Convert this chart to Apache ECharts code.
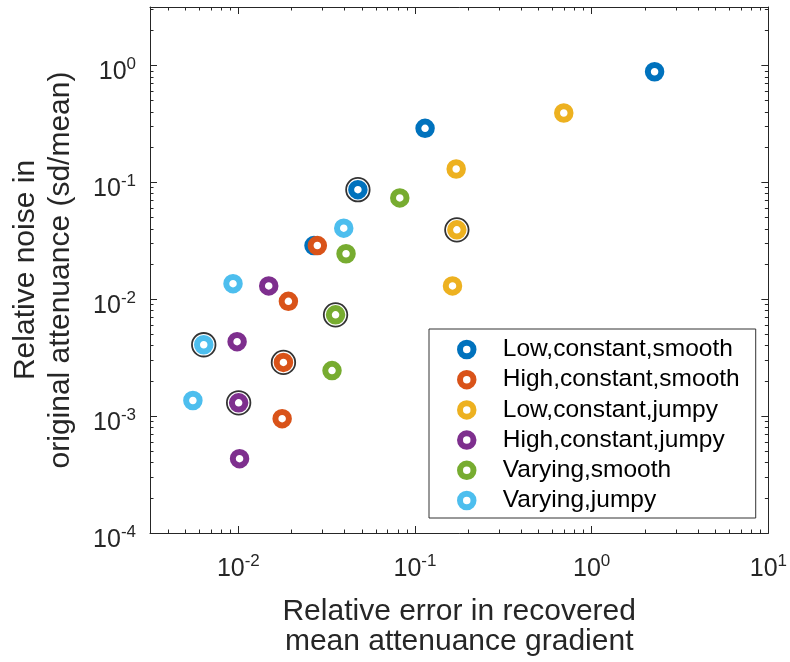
<!DOCTYPE html>
<html>
<head>
<meta charset="utf-8">
<title>Relative noise vs relative error</title>
<script src="https://cdn.jsdelivr.net/npm/echarts@6/dist/echarts.min.js"></script>
<style>
html, body { margin: 0; padding: 0; background: #fff; }
#chart { width: 790px; height: 662px; }
</style>
</head>
<body>
<div id="chart"></div>
<script>
// groups, in legend order
const groupNames = ['Low,constant,smooth', 'High,constant,smooth', 'Low,constant,jumpy',
                    'High,constant,jumpy', 'Varying,smooth', 'Varying,jumpy'];
const groupColors = ['#0072BD', '#D95319', '#EDB120', '#7E2F8E', '#77AC30', '#4DBEEE'];

// x: relative error in recovered mean attenuance gradient
const errLowConstSmooth   = [2.27, 0.114, 0.0475, 0.0268];
const errHighConstSmooth  = [0.0280, 0.0192, 0.0180, 0.0177];
const errLowConstJumpy    = [0.695, 0.171, 0.1725, 0.163];
const errHighConstJumpy   = [0.01486, 0.00984, 0.01004, 0.01016];
const errVaryingSmooth    = [0.082, 0.0407, 0.0355, 0.0339];
const errVaryingJumpy     = [0.0395, 0.00933, 0.00637, 0.00553];

// y: relative noise in original attenuance (sd/mean)
const noiseLowConstSmooth  = [0.883, 0.290, 0.0865, 0.0288];
const noiseHighConstSmooth = [0.0288, 0.0096, 0.00288, 0.00095];
const noiseLowConstJumpy   = [0.392, 0.130, 0.0392, 0.0130];
const noiseHighConstJumpy  = [0.0130, 0.00433, 0.00130, 0.000432];
const noiseVaryingSmooth   = [0.0735, 0.0245, 0.00735, 0.00245];
const noiseVaryingJumpy    = [0.0405, 0.01359, 0.00408, 0.00136];

// the run that is circled in black in every group
const circledRun = 2;

// axes are log10: exponents of the labelled decades and the ranges
const xTickExps = [-2, -1, 0, 1];
const yTickExps = [-4, -3, -2, -1, 0];
const xRange = [-2.5, 1];
const yRange = [-4, 0.5];

const errs = [errLowConstSmooth, errHighConstSmooth, errLowConstJumpy,
              errHighConstJumpy, errVaryingSmooth, errVaryingJumpy];
const noises = [noiseLowConstSmooth, noiseHighConstSmooth, noiseLowConstJumpy,
                noiseHighConstJumpy, noiseVaryingSmooth, noiseVaryingJumpy];

const font = "'Liberation Sans', Arial, Helvetica, sans-serif";
const axisColor = '#262626';

// 2..9 ticks inside each decade
function minorTicks(range) {
    const out = [];
    for (let e = Math.floor(range[0]); e < range[1]; e++) {
        for (let k = 2; k <= 9; k++) {
            const v = e + Math.log10(k);
            if (v > range[0] && v < range[1]) out.push(v);
        }
    }
    return out;
}

const powRich = {
    a: {fontSize: 25, lineHeight: 33, color: axisColor, fontFamily: font},
    b: {fontSize: 17, lineHeight: 10, verticalAlign: 'top', color: axisColor, fontFamily: font}
};

function makeAxis(range, position, ticks, tickLen, withLine, label) {
    return {
        type: 'value',
        position: position,
        min: range[0],
        max: range[1],
        splitLine: {show: false},
        axisLine: {show: withLine, onZero: false, lineStyle: {color: axisColor, width: 1}},
        axisTick: {show: true, inside: true, length: tickLen, customValues: ticks,
                   lineStyle: {color: axisColor, width: 1}},
        axisLabel: label || {show: false}
    };
}

const xMain = makeAxis(xRange, 'bottom', xTickExps, 7, true, {
    show: true, customValues: xTickExps, margin: 20,
    formatter: v => '{a|10}{b|' + Math.round(v) + '}', rich: powRich
});
xMain.name = 'Relative error in recovered\nmean attenuance gradient';
xMain.nameLocation = 'middle';
xMain.nameGap = 64;
xMain.nameTextStyle = {fontSize: 30, lineHeight: 30, color: axisColor, fontFamily: font};

const yMain = makeAxis(yRange, 'left', yTickExps, 7, true, {
    show: true, customValues: yTickExps, margin: 14, padding: [14, 0, 0, 0],
    formatter: v => '{a|10}{b|' + Math.round(v) + '}', rich: powRich
});
yMain.name = 'Relative noise in\noriginal attenuance (sd/mean)';
yMain.nameLocation = 'middle';
yMain.nameGap = 72;
yMain.nameRotate = 90;
yMain.nameTextStyle = {fontSize: 30, lineHeight: 35, color: axisColor, fontFamily: font};

const xAxes = [
    xMain,
    makeAxis(xRange, 'bottom', minorTicks(xRange), 3.5, false),
    makeAxis(xRange, 'top', xTickExps, 7, true),
    makeAxis(xRange, 'top', minorTicks(xRange), 3.5, false)
];
const yAxes = [
    yMain,
    makeAxis(yRange, 'left', minorTicks(yRange), 3.5, false),
    makeAxis(yRange, 'right', yTickExps, 7, true),
    makeAxis(yRange, 'right', minorTicks(yRange), 3.5, false)
];

const series = groupNames.map((name, i) => ({
    name: name,
    type: 'scatter',
    xAxisIndex: 0,
    yAxisIndex: 0,
    symbol: 'circle',
    symbolSize: 13.5,
    itemStyle: {color: '#fff', borderColor: groupColors[i], borderWidth: 6, opacity: 1},
    data: errs[i].map((x, j) => [Math.log10(x), Math.log10(noises[i][j])])
}));

// black rings round the circled runs
series.push({
    name: 'circled',
    type: 'scatter',
    xAxisIndex: 0,
    yAxisIndex: 0,
    symbol: 'circle',
    symbolSize: 23.5,
    itemStyle: {color: 'rgba(0,0,0,0)', borderColor: '#000', borderWidth: 1.8},
    data: errs.map((xs, i) => [Math.log10(xs[circledRun]), Math.log10(noises[i][circledRun])])
});

const chart = echarts.init(document.getElementById('chart'));
chart.setOption({
    animation: false,
    backgroundColor: '#fff',
    textStyle: {fontFamily: font},
    grid: {left: 147, right: 18, top: 7, bottom: 127, containLabel: false},
    xAxis: xAxes,
    yAxis: yAxes,
    legend: {
        data: groupNames.map((n, i) => ({
            name: n,
            itemStyle: {color: '#fff', borderColor: groupColors[i], borderWidth: 6}
        })),
        orient: 'vertical',
        left: 429,
        top: 329,
        padding: [8, 16, 5, 28],
        icon: 'circle',
        itemWidth: 62,
        itemHeight: 13.5,
        itemGap: 5.2,
        selectedMode: false,
        borderColor: '#333',
        borderWidth: 1,
        backgroundColor: '#fff',
        textStyle: {fontSize: 24.5, lineHeight: 24, color: '#000', fontFamily: font}
    },
    series: series
});
</script>
</body>
</html>
